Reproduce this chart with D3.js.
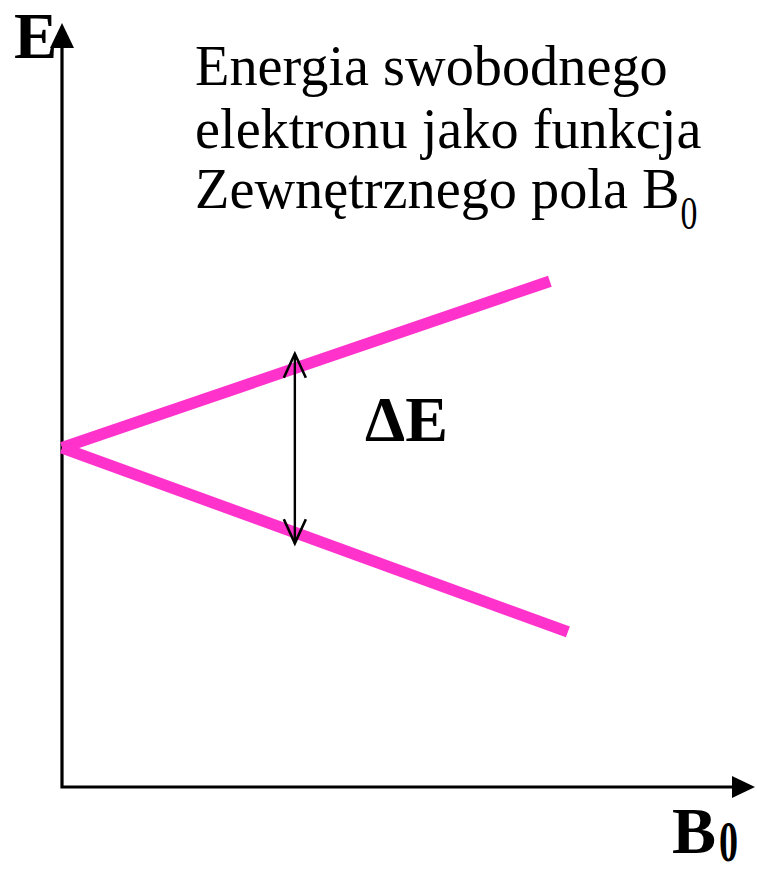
<!DOCTYPE html>
<html>
<head>
<meta charset="utf-8">
<script src="https://cdn.jsdelivr.net/npm/d3@7"></script>
<style>
  html, body { margin: 0; padding: 0; background: #fff; }
  svg { display: block; }
</style>
</head>
<body>
<div id="chart"></div>
<script>
(function () {
  'use strict';

  // Axis domains (arbitrary units, both axes start at 0)
  var bDomain = [0, 100];
  var eDomain = [0, 100];

  // Zeeman split: upper (spin antiparallel) and lower (parallel) levels
  var upperB = [0, 70.4];
  var upperE = [44.4, 66.2];
  var lowerB = [0, 73.0];
  var lowerE = [44.4, 20.3];

  // Delta E double arrow
  var gapB = [33.6, 33.6];
  var gapE = [56.7, 31.9];

  // Texts
  var titleLines = ['Energia swobodnego', 'elektronu jako funkcja', 'Zewnętrznego pola B'];
  var axisLabels = { y: 'E', x: 'B', sub: '0' };

  var width = 757;
  var height = 873;
  var serif = '"Liberation Serif", "Times New Roman", serif';
  var pink = '#ff33cc';

  var svg = d3.select('#chart').append('svg')
    .attr('width', width)
    .attr('height', height);

  var x = d3.scaleLinear().domain(bDomain).range([62, 755]);
  var y = d3.scaleLinear().domain(eDomain).range([787, 23]);

  var line = d3.line()
    .x(function (d) { return x(d[0]); })
    .y(function (d) { return y(d[1]); });

  function zip(a, b) {
    return a.map(function (v, i) { return [v, b[i]]; });
  }

  // Axes: L-shaped path with filled arrow heads
  var x0 = x(bDomain[0]), y0 = y(eDomain[0]);
  var xEnd = x(bDomain[1]), yEnd = y(eDomain[1]);

  svg.append('path')
    .attr('d', 'M' + x0 + ',' + (yEnd + 24) + 'L' + x0 + ',' + y0 + 'L' + (xEnd - 22) + ',' + y0)
    .attr('fill', 'none')
    .attr('stroke', '#000')
    .attr('stroke-width', 3.2)
    .attr('stroke-linejoin', 'miter');

  svg.append('path')
    .attr('d', 'M' + x0 + ',' + yEnd + 'L' + (x0 + 12) + ',' + (yEnd + 25) + 'L' + (x0 - 12) + ',' + (yEnd + 25) + 'Z')
    .attr('fill', '#000');

  svg.append('path')
    .attr('d', 'M' + xEnd + ',' + y0 + 'L' + (xEnd - 23) + ',' + (y0 - 11) + 'L' + (xEnd - 23) + ',' + (y0 + 11) + 'Z')
    .attr('fill', '#000');

  // Energy levels
  [zip(upperB, upperE), zip(lowerB, lowerE)].forEach(function (pts) {
    svg.append('path')
      .datum(pts)
      .attr('d', line)
      .attr('fill', 'none')
      .attr('stroke', pink)
      .attr('stroke-width', 11.5)
      .attr('stroke-linecap', 'butt');
  });

  // Delta E arrow
  var gap = zip(gapB, gapE);
  var ax = x(gap[0][0]), ay1 = y(gap[0][1]), ay2 = y(gap[1][1]);
  svg.append('path')
    .datum(gap)
    .attr('d', line)
    .attr('stroke', '#000')
    .attr('stroke-width', 2.4);
  svg.append('path')
    .attr('d',
      'M' + (ax - 11) + ',' + (ay1 + 24) + 'L' + ax + ',' + ay1 + 'L' + (ax + 11) + ',' + (ay1 + 24) +
      'M' + (ax - 11) + ',' + (ay2 - 24) + 'L' + ax + ',' + ay2 + 'L' + (ax + 11) + ',' + (ay2 - 24))
    .attr('fill', 'none')
    .attr('stroke', '#000')
    .attr('stroke-width', 2.6);

  svg.append('text')
    .attr('x', 365)
    .attr('y', 441)
    .attr('font-family', serif)
    .attr('font-weight', 'bold')
    .attr('font-size', 64)
    .text('\u0394E');

  // Axis labels
  svg.append('text')
    .attr('x', 14)
    .attr('y', 58)
    .attr('font-family', serif)
    .attr('font-weight', 'bold')
    .attr('font-size', 65)
    .text(axisLabels.y);

  svg.append('text')
    .attr('x', 672)
    .attr('y', 853)
    .attr('font-family', serif)
    .attr('font-weight', 'bold')
    .attr('font-size', 66)
    .text(axisLabels.x);
  svg.append('text')
    .attr('transform', 'translate(719,861) scale(0.68,1)')
    .attr('font-family', serif)
    .attr('font-weight', 'bold')
    .attr('font-size', 56)
    .text(axisLabels.sub);

  // Title block
  var title = svg.append('g')
    .attr('font-family', serif)
    .attr('font-size', 56.3)
    .attr('fill', '#000');
  var baselines = [85, 148, 208];
  titleLines.forEach(function (t, i) {
    var tx = title.append('text')
      .attr('x', 195)
      .attr('y', baselines[i])
      .text(t);
    if (i === titleLines.length - 1) {
      var w = tx.node().getComputedTextLength();
      title.append('text')
        .attr('transform', 'translate(' + (195 + w + 1) + ',' + (baselines[i] + 21) + ') scale(0.72,1)')
        .attr('font-size', 47)
        .text(axisLabels.sub);
    }
  });
})();
</script>
</body>
</html>
